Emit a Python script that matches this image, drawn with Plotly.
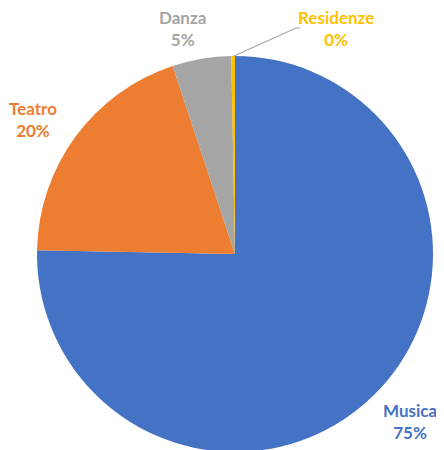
import plotly.graph_objects as go

categories = ["Musica", "Teatro", "Danza", "Residenze"]
values = [75.3, 19.6, 4.8, 0.3]
colors = ["#4472C4", "#ED7D31", "#A5A5A5", "#FFC000"]
# label centre positions in page pixels
label_x = [410, 33, 182, 336]
label_y = [421, 119, 29, 29]

W, H = 444, 450
OFF = 8  # default body margin of the page
R = 198
cx, cy = 235 - OFF, 254 - OFF


def px(x):
    return (x - OFF) / W


def py(y):
    return 1 - (y - OFF) / H


fig = go.Figure()
fig.add_trace(go.Pie(
    labels=categories,
    values=values,
    sort=False,
    direction="clockwise",
    rotation=0,
    textinfo="none",
    hoverinfo="label+percent",
    marker=dict(colors=colors, line=dict(width=0)),
    domain=dict(x=[(cx - R) / W, (cx + R) / W], y=[(H - cy - R) / H, (H - cy + R) / H]),
    showlegend=False,
))

total = sum(values)
for name, v, c, lx, ly in zip(categories, values, colors, label_x, label_y):
    pct = round(v / total * 100)
    fig.add_annotation(
        x=px(lx), y=py(ly), xref="paper", yref="paper",
        xanchor="center", yanchor="middle",
        text="<b>{}</b><br><b>{}%</b>".format(name, pct),
        showarrow=False,
        font=dict(family="Lato", size=17, color=c),
        align="center",
    )

# leader line for the tiny Residenze slice
fig.add_shape(type="path", xref="paper", yref="paper",
              path="M {} {} L {} {} L {} {}".format(px(234), py(56), px(296), py(28), px(300), py(28)),
              line=dict(color="#A5A5A5", width=1.2))

fig.update_layout(
    width=W, height=H,
    margin=dict(l=0, r=0, t=0, b=0),
    paper_bgcolor="white",
    plot_bgcolor="white",
)

fig.write_html("out.html")
